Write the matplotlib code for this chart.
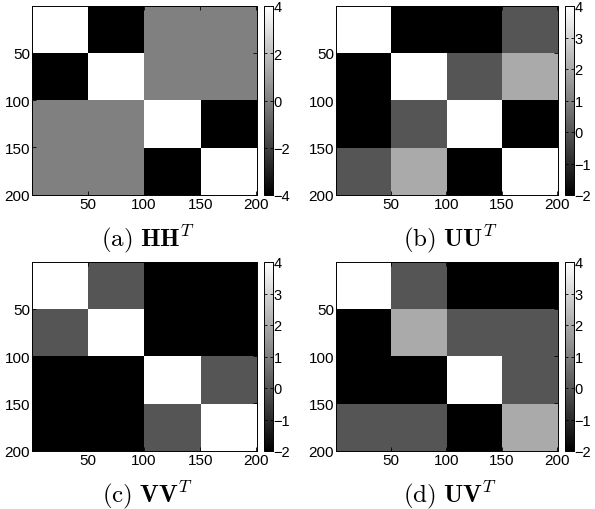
import numpy as np
import matplotlib
matplotlib.use("Agg")
import matplotlib.pyplot as plt

plt.rcParams['font.family'] = ['Liberation Sans', 'DejaVu Sans']
plt.rcParams['mathtext.fontset'] = 'cm'

# block values of each 4x4 block matrix (each block is 50x50)
hh = [[4, -4, 0, 0],
      [-4, 4, 0, 0],
      [0, 0, 4, -4],
      [0, 0, -4, 4]]
uu = [[4, -2, -2, 0],
      [-2, 4, 0, 2],
      [-2, 0, 4, -2],
      [0, 2, -2, 4]]
vv = [[4, 0, -2, -2],
      [0, 4, -2, -2],
      [-2, -2, 4, 0],
      [-2, -2, 0, 4]]
uv = [[4, 0, -2, -2],
      [-2, 2, 0, 0],
      [-2, -2, 4, 0],
      [0, 0, -2, 2]]

captions = [r'$\mathrm{(a)}\ \mathbf{HH}^T$', r'$\mathrm{(b)}\ \mathbf{UU}^T$',
            r'$\mathrm{(c)}\ \mathbf{VV}^T$', r'$\mathrm{(d)}\ \mathbf{UV}^T$']
limits = [(-4, 4), (-2, 4), (-2, 4), (-2, 4)]
cb_ticks = [[-4, -2, 0, 2, 4], [-2, -1, 0, 1, 2, 3, 4],
            [-2, -1, 0, 1, 2, 3, 4], [-2, -1, 0, 1, 2, 3, 4]]
axis_ticks = [50, 100, 150, 200]
block = 50

W, H = 595, 510
fig = plt.figure(figsize=(W / 100, H / 100), dpi=100)

# pixel boxes: (left, top, width) of each image axes
boxes = [(32, 7, 225), (336, 7, 222), (32, 263, 225), (336, 263, 222)]
ah = 189

mats = [hh, uu, vv, uv]
for i in range(4):
    x0, y0, aw = boxes[i]
    ax = fig.add_axes([x0 / W, 1 - (y0 + ah) / H, aw / W, ah / H])
    m = np.kron(np.array(mats[i], dtype=float), np.ones((block, block)))
    n = m.shape[0]
    im = ax.imshow(m, cmap='gray', vmin=limits[i][0], vmax=limits[i][1],
                   aspect='auto', interpolation='nearest',
                   extent=(0.5, n + 0.5, n + 0.5, 0.5))
    ax.set_xticks(axis_ticks)
    ax.set_yticks(axis_ticks)
    ax.tick_params(direction='in', length=3, width=0.6, labelsize=11,
                   top=True, right=True, pad=1.5)
    for s in ax.spines.values():
        s.set_linewidth(0.7)

    cax = fig.add_axes([(x0 + aw + 7) / W, 1 - (y0 + ah) / H, 9 / W, ah / H])
    cb = fig.colorbar(im, cax=cax)
    cb.set_ticks(cb_ticks[i])
    cb.ax.set_yticklabels([str(t).replace('-', '\u2212') for t in cb_ticks[i]])
    cax.tick_params(direction='in', length=2, width=0.6, labelsize=10.5,
                    left=True, right=True, pad=0.5)
    cb.outline.set_linewidth(0.7)

    fig.text((x0 + aw / 2 + 3) / W, 1 - (y0 + ah + 43) / H, captions[i],
             ha='center', va='center', fontsize=18)

fig.savefig('out.png', dpi=100)
